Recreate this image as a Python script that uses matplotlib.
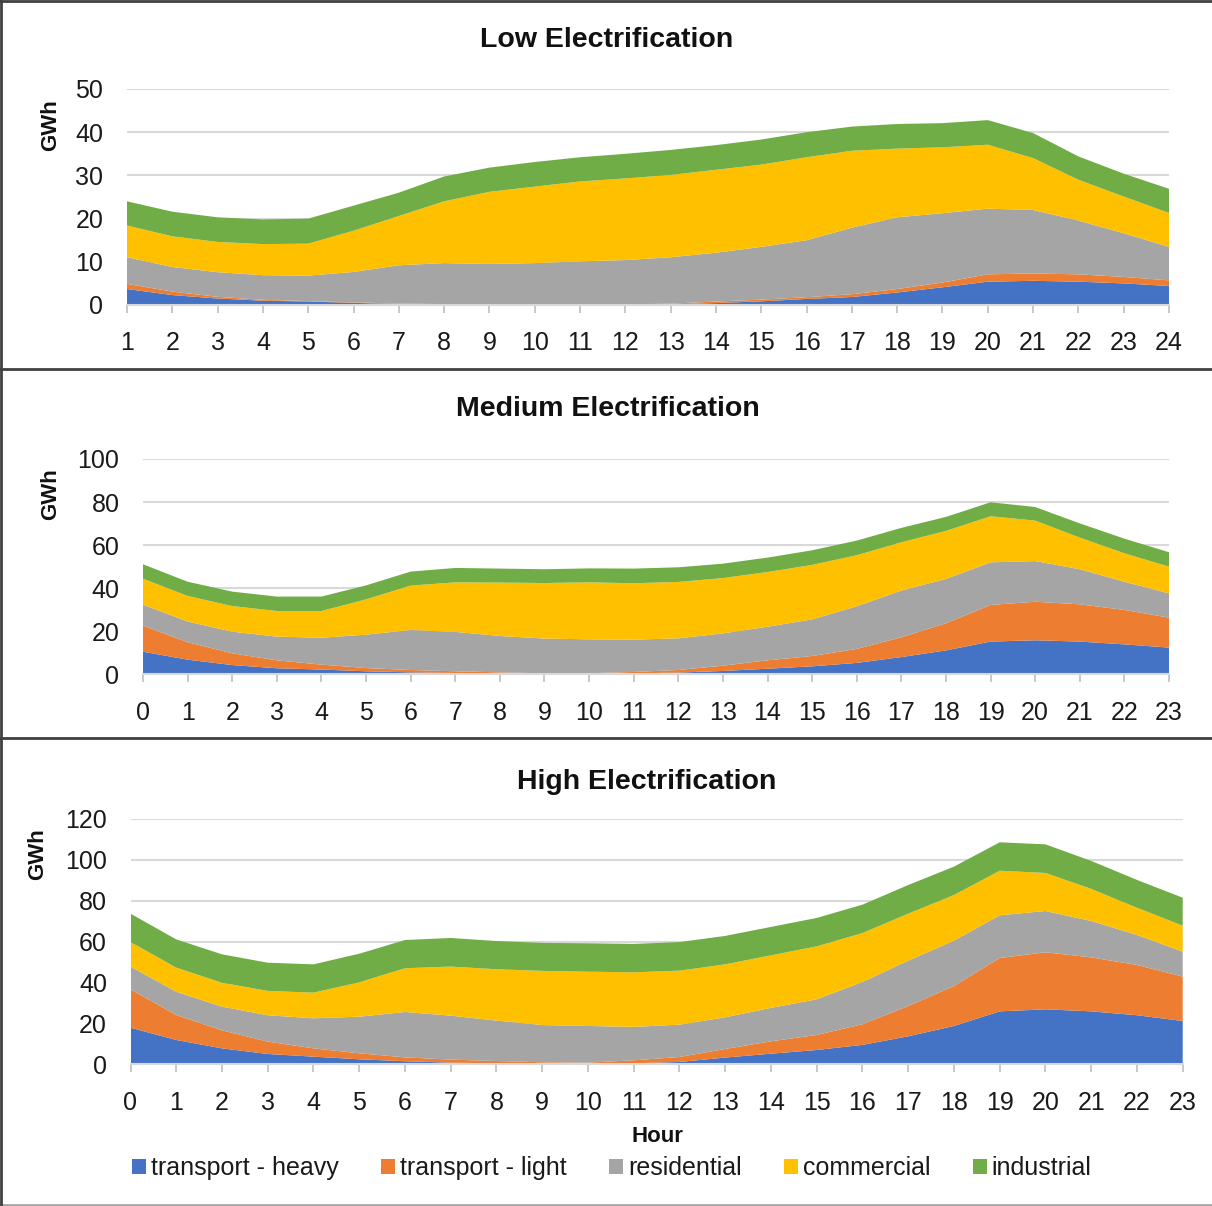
import matplotlib
matplotlib.use("Agg")
import matplotlib.pyplot as plt
from matplotlib.lines import Line2D
from matplotlib.patches import Patch

plt.rcParams['font.family'] = ['Liberation Sans', 'DejaVu Sans']

series_names = ["transport - heavy", "transport - light", "residential", "commercial", "industrial"]
colors = ["#4472C4", "#ED7D31", "#A5A5A5", "#FFC000", "#70AD47"]

# ---- Low Electrification (hours 1..24) ----
low_hours = list(range(1, 25))
low_heavy = [3.7, 2.3, 1.5, 1.0, 0.8, 0.5, 0.2, 0.1, 0.05, 0.05, 0.05, 0.1, 0.15, 0.45, 0.85, 1.4, 1.85, 2.9, 4.1, 5.4, 5.6, 5.4, 5.0, 4.4]
low_light = [1.2, 0.8, 0.4, 0.2, 0.1, 0.1, 0.15, 0.1, 0.05, 0.05, 0.05, 0.05, 0.15, 0.35, 0.4, 0.4, 0.65, 0.8, 1.1, 1.7, 1.7, 1.7, 1.5, 1.3]
low_res = [6.15, 5.7, 5.7, 5.7, 5.9, 7.05, 8.85, 9.5, 9.4, 9.6, 10.0, 10.25, 10.75, 11.3, 12.2, 13.2, 15.4, 16.6, 16.05, 15.2, 14.7, 12.45, 10.1, 7.75]
low_com = [7.35, 7.1, 7.0, 7.2, 7.4, 9.55, 11.4, 14.3, 16.7, 17.7, 18.5, 18.9, 19.05, 19.2, 19.05, 19.2, 17.8, 15.9, 15.25, 14.8, 12.0, 9.45, 8.5, 7.85]
low_ind = [5.6, 5.7, 5.7, 5.7, 5.8, 5.8, 5.4, 5.75, 5.6, 5.7, 5.6, 5.7, 5.8, 5.7, 5.8, 5.8, 5.6, 5.7, 5.6, 5.7, 5.8, 5.4, 5.3, 5.6]

# ---- Medium Electrification (hours 0..23) ----
med_hours = list(range(0, 24))
med_heavy = [10.5, 6.8, 4.3, 2.8, 2.2, 1.4, 0.9, 0.6, 0.45, 0.3, 0.3, 0.45, 0.8, 1.55, 2.6, 3.7, 5.3, 8.0, 11.1, 15.2, 15.8, 15.2, 13.9, 12.4]
med_light = [12.1, 8.1, 5.45, 3.7, 2.3, 1.5, 1.1, 0.8, 0.45, 0.15, 0.2, 0.65, 1.2, 2.45, 3.9, 4.8, 6.5, 9.2, 12.6, 17.0, 17.9, 17.3, 16.0, 13.9]
med_res = [9.75, 9.6, 10.05, 11.0, 12.5, 15.5, 18.6, 18.3, 16.9, 16.15, 15.75, 15.0, 14.7, 15.0, 15.6, 17.0, 19.8, 21.7, 20.6, 19.8, 18.9, 16.3, 13.1, 11.3]
med_com = [12.05, 11.9, 11.9, 11.9, 12.4, 16.4, 20.6, 23.0, 24.8, 25.8, 26.45, 26.2, 26.2, 25.7, 25.4, 25.3, 23.7, 22.4, 22.3, 21.4, 18.8, 14.7, 13.2, 12.4]
med_ind = [6.7, 6.6, 6.7, 6.7, 6.7, 6.5, 6.5, 6.7, 6.5, 6.4, 6.5, 6.8, 6.8, 6.7, 6.7, 6.8, 6.8, 6.7, 6.5, 6.5, 6.3, 6.6, 6.8, 6.7]

# ---- High Electrification (hours 0..23) ----
high_hours = list(range(0, 24))
high_heavy = [17.9, 11.9, 7.8, 5.05, 3.75, 2.45, 1.5, 0.8, 0.5, 0.3, 0.3, 0.5, 1.15, 3.3, 5.2, 7.0, 9.5, 13.7, 18.75, 25.9, 26.9, 25.9, 24.0, 21.2]
high_light = [18.8, 12.2, 8.8, 6.05, 4.05, 2.95, 1.9, 1.5, 1.1, 0.7, 0.5, 1.45, 2.45, 4.2, 6.05, 7.35, 10.1, 14.8, 19.55, 26.1, 27.9, 26.4, 24.6, 21.7]
high_res = [11.1, 11.4, 11.6, 12.9, 14.7, 17.9, 22.2, 21.5, 19.8, 18.2, 17.95, 16.35, 15.8, 15.5, 16.35, 17.45, 20.7, 22.2, 22.2, 20.9, 20.2, 17.8, 14.7, 12.2]
high_com = [12.0, 11.8, 11.7, 11.9, 12.55, 16.8, 21.4, 24.0, 25.1, 26.5, 26.55, 26.7, 26.4, 25.9, 25.7, 25.9, 23.9, 23.0, 22.3, 21.8, 18.6, 15.7, 13.3, 12.7]
high_ind = [13.9, 13.8, 13.9, 13.8, 13.85, 14.0, 13.8, 14.0, 13.8, 13.7, 13.9, 13.9, 14.0, 13.9, 13.9, 13.9, 13.9, 14.0, 13.9, 13.9, 14.0, 13.7, 13.6, 13.7]

W, H = 1212, 1206
fig = plt.figure(figsize=(W / 100, H / 100), dpi=100)
fig.patch.set_facecolor("white")

def add_ax(left, right, top, bottom):
    return fig.add_axes([left / W, 1 - bottom / H, (right - left) / W, (bottom - top) / H])

def fx(x):
    return x / W

def fy(y):
    return 1 - y / H

panels = [
    dict(title="Low Electrification", hours=low_hours,
         data=[low_heavy, low_light, low_res, low_com, low_ind],
         rect=(127, 1169, 89, 305), ymax=50, ystep=10,
         title_xy=(607, 40), gwh_xy=(51, 125)),
    dict(title="Medium Electrification", hours=med_hours,
         data=[med_heavy, med_light, med_res, med_com, med_ind],
         rect=(143, 1169, 459, 674.3), ymax=100, ystep=20,
         title_xy=(608, 409), gwh_xy=(51, 494)),
    dict(title="High Electrification", hours=high_hours,
         data=[high_heavy, high_light, high_res, high_com, high_ind],
         rect=(130.5, 1182.7, 819, 1064.3), ymax=120, ystep=20,
         title_xy=(647, 782), gwh_xy=(38, 854)),
]

tick_fs = 18
for p in panels:
    ax = add_ax(*p["rect"])
    ax.stackplot(p["hours"], *p["data"], colors=colors, labels=series_names,
                 linewidth=0, zorder=2)
    ax.set_xlim(p["hours"][0], p["hours"][-1])
    ax.set_ylim(0, p["ymax"])
    ax.set_xticks(p["hours"])
    ax.set_yticks(list(range(0, p["ymax"] + 1, p["ystep"])))
    ax.grid(axis="y", color="#d9d9d9", linewidth=1.5, zorder=0)
    ax.set_axisbelow(True)
    for s in ["top", "right", "left"]:
        ax.spines[s].set_visible(False)
    ax.spines["bottom"].set_color("#d9d9d9")
    ax.spines["bottom"].set_linewidth(1.5)
    ax.spines["bottom"].set_zorder(3)
    ax.tick_params(axis="x", length=6, width=1.2, color="#bfbfbf", pad=13,
                   labelsize=tick_fs, labelcolor="#1a1a1a")
    ax.tick_params(axis="y", length=0, pad=17, labelsize=tick_fs, labelcolor="#1a1a1a")
    ax.set_facecolor("none")
    fig.text(fx(p["title_xy"][0]), fy(p["title_xy"][1]), p["title"], ha="center", va="center",
             fontsize=20.5, fontweight="bold", color="#111111")
    fig.text(fx(p["gwh_xy"][0]), fy(p["gwh_xy"][1]), "GWh", ha="center", va="center",
             rotation=90, fontsize=16, fontweight="bold", color="#111111")

# x-axis title of bottom panel
fig.text(fx(657), fy(1137), "Hour", ha="center", va="center", fontsize=16,
         fontweight="bold", color="#111111")

# legend
leg_handles = [Patch(facecolor=c, edgecolor="none") for c in colors]
fig.legend(leg_handles, series_names, loc="center", bbox_to_anchor=(fx(612), fy(1168)),
           ncol=5, frameon=False, fontsize=18, handlelength=0.55, handleheight=0.55,
           handletextpad=0.2, columnspacing=1.7, labelcolor="#1a1a1a")

# panel borders
def hline(y, color="#404040", lw=2.0):
    fig.add_artist(Line2D([0, 1], [fy(y), fy(y)], color=color, linewidth=lw,
                          transform=fig.transFigure))

def vline(x, y0, y1, color="#404040", lw=2.0):
    fig.add_artist(Line2D([fx(x), fx(x)], [fy(y0), fy(y1)], color=color, linewidth=lw,
                          transform=fig.transFigure))

hline(0.7)
hline(369)
hline(737.5)
hline(1205, color="#a6a6a6")
vline(1.2, 0, 1205)

fig.savefig("out.png", dpi=100, facecolor="white")
